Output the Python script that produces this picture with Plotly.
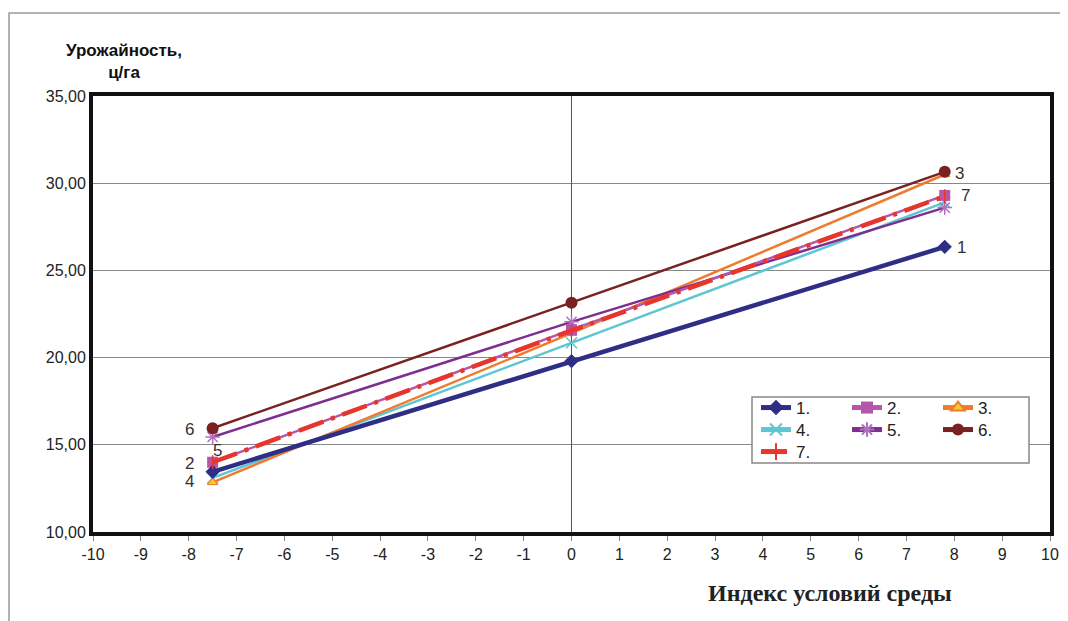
import plotly.graph_objects as go

# ---- data ----
x_index = [-7.5, 0, 7.8]
s1 = [13.45, 19.8, 26.35]
s2 = [14.0, 21.6, 29.3]
s3 = [12.85, 21.4, 30.5]
s4 = [13.1, 20.85, 28.9]
s5 = [15.45, 22.05, 28.6]
s6 = [15.95, 23.15, 30.65]
s7 = [14.0, 21.55, 29.25]
series_names = ["1.", "2.", "3.", "4.", "5.", "6.", "7."]
end_label_text = ["6", "5", "2", "4", "3", "7", "1"]
end_label_x = [-7.98, -7.40, -7.98, -7.98, 8.11, 8.23, 8.15]
end_label_y = [15.9, 14.65, 13.95, 12.9, 30.55, 29.3, 26.3]
y_tickvals = [10, 15, 20, 25, 30, 35]
y_ticktext = ["10,00", "15,00", "20,00", "25,00", "30,00", "35,00"]
x_tickvals = list(range(-10, 11))
x_ticktext = [str(v) for v in x_tickvals]

# reference-pixel helpers (page has an 8px body margin)
OFF = 8
PL, PR, PT, PB = 93, 1050, 96, 532   # plot area in reference pixels
W, H = 1068 - OFF, 621 - OFF


def px(xr):
    return (xr - PL) / (PR - PL)


def py(yr):
    return (PB - yr) / (PB - PT)


fig = go.Figure()

styles = {
    0: dict(data=s1, color="#2E2E86", width=4.5, dash="solid",
            marker=dict(symbol="diamond", size=11, color="#2E2E86")),
    1: dict(data=s2, color="#B556A8", width=2.5, dash="solid",
            marker=dict(symbol="square", size=11, color="#B556A8")),
    2: dict(data=s3, color="#F07A30", width=2.5, dash="solid",
            marker=dict(symbol="triangle-up", size=9, color="#F5CC20",
                        line=dict(color="#F07A30", width=1))),
    3: dict(data=s4, color="#5CC6D3", width=2.5, dash="solid",
            marker=dict(symbol="x-thin-open", size=11, color="#5CC6D3",
                        line=dict(color="#5CC6D3", width=1.5))),
    4: dict(data=s5, color="#7E2E90", width=2.5, dash="solid",
            marker=dict(symbol="asterisk-open", size=12, color="#B070C0",
                        line=dict(color="#B070C0", width=1.5))),
    5: dict(data=s6, color="#7A2222", width=2.5, dash="solid",
            marker=dict(symbol="circle", size=12, color="#7A2222")),
    6: dict(data=s7, color="#E8352C", width=4.5, dash="26px,8px,4px,8px",
            marker=dict(symbol="line-ns-open", size=10, color="#E8352C",
                        line=dict(color="#E8352C", width=1.5))),
}
legend_of = {0: "legend", 1: "legend", 2: "legend",
             3: "legend2", 4: "legend2", 5: "legend2", 6: "legend3"}

draw_order = [3, 2, 4, 1, 0, 6, 5]
for i in draw_order:
    st = styles[i]
    fig.add_trace(go.Scatter(
        x=x_index, y=st["data"], name=series_names[i], mode="lines+markers",
        line=dict(color=st["color"], width=st["width"], dash=st["dash"]),
        marker=st["marker"], legendrank=i + 1, legend=legend_of[i],
    ))

# end labels
label_font = dict(family="Liberation Sans, Arial", size=17, color="#333333")
for t, xv, yv in zip(end_label_text, end_label_x, end_label_y):
    fig.add_annotation(x=xv, y=yv, text=t, showarrow=False, font=label_font,
                       xanchor="center", yanchor="middle")

# axis titles
fig.add_annotation(xref="paper", yref="paper", x=px(124), y=py(62),
                   xanchor="center", yanchor="middle",
                   text="<b>Урожайность,<br>ц/га</b>", showarrow=False, align="center",
                   font=dict(family="Liberation Sans, Arial", size=17, color="#111111"))
fig.add_annotation(xref="paper", yref="paper", x=px(830), y=py(593),
                   xanchor="center", yanchor="middle",
                   text="<b>Индекс условий среды</b>", showarrow=False,
                   font=dict(family="Liberation Serif, Times New Roman", size=24, color="#222222"))

# outer frame (left and top edges of the page frame)
fig.add_shape(type="rect", xref="paper", yref="paper",
              x0=px(OFF + 1), x1=px(1090), y0=py(650), y1=py(13),
              line=dict(color="#999999", width=1.5), layer="below")
# legend box
fig.add_shape(type="rect", xref="paper", yref="paper",
              x0=px(752), x1=px(1029), y0=py(463), y1=py(397),
              line=dict(color="#888888", width=1.5), fillcolor="white", layer="above")

tick_font = dict(family="Liberation Sans, Arial", size=16, color="#222222")
leg_common = dict(orientation="h", xanchor="left", yanchor="middle",
                  borderwidth=0, bgcolor="rgba(0,0,0,0)",
                  entrywidth=46, entrywidthmode="pixels",
                  font=dict(family="Liberation Sans, Arial", size=17, color="#222222"),
                  itemsizing="constant")

fig.update_layout(
    width=W, height=H,
    margin=dict(l=PL - OFF, r=W - (PR - OFF), t=PT - OFF, b=H - (PB - OFF), autoexpand=False),
    paper_bgcolor="white", plot_bgcolor="white",
    showlegend=True,
    legend=dict(x=px(756), y=py(408), **leg_common),
    legend2=dict(x=px(756), y=py(430), **leg_common),
    legend3=dict(x=px(756), y=py(452), **leg_common),
    xaxis=dict(range=[-10, 10], tickvals=x_tickvals, ticktext=x_ticktext,
               showgrid=False, zeroline=True, zerolinecolor="#555555", zerolinewidth=1,
               showline=True, linecolor="#111111", linewidth=4, mirror=True,
               ticks="outside", ticklen=5, tickcolor="#888888", tickwidth=1,
               tickfont=tick_font),
    yaxis=dict(range=[10, 35], tickvals=y_tickvals, ticktext=y_ticktext,
               showgrid=True, gridcolor="#888888", gridwidth=1, zeroline=False,
               showline=True, linecolor="#111111", linewidth=4, mirror=True,
               ticks="", tickfont=tick_font),
)

fig.write_html("out.html")
